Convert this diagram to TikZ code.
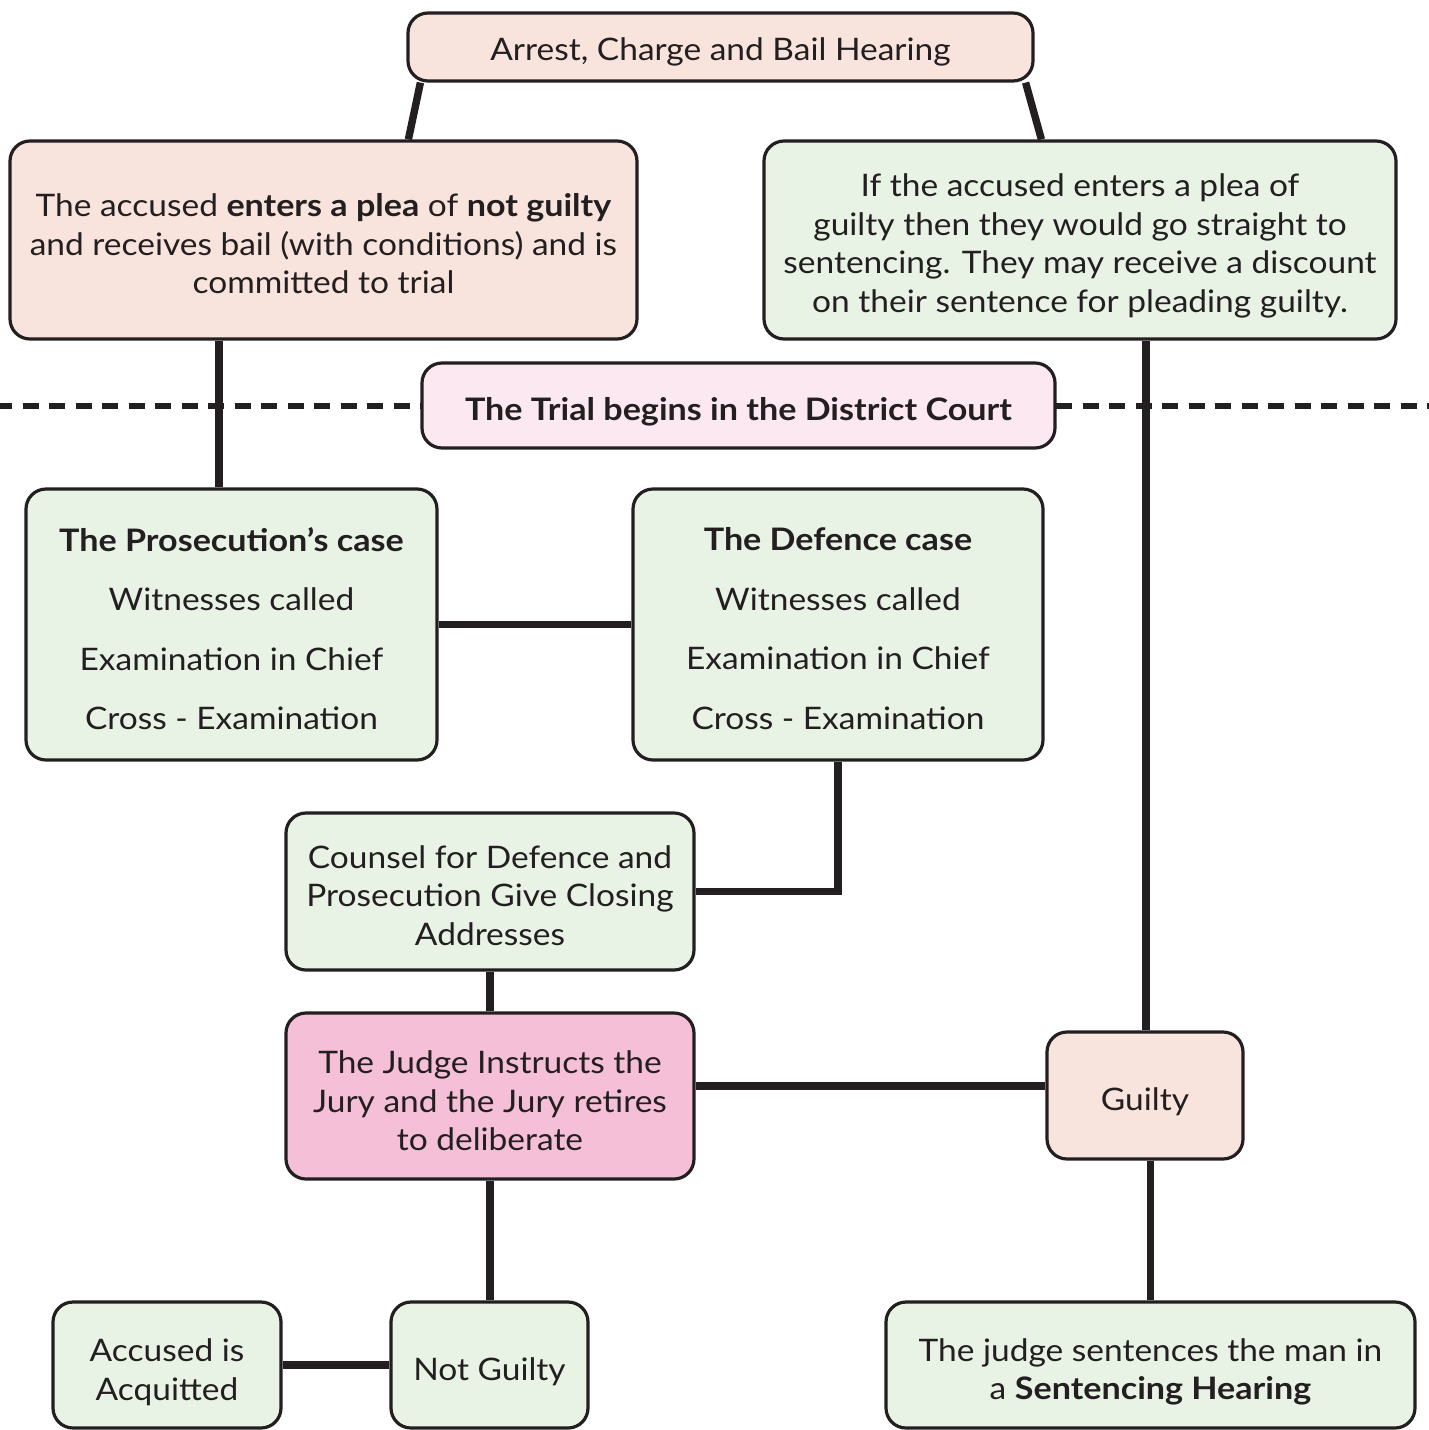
\documentclass[tikz,border=0pt]{standalone}
\usepackage{fontspec}
\setmainfont{Lato}[FakeStretch=1.08, BoldFeatures={FakeStretch=1.1}]
\usetikzlibrary{calc,backgrounds}
\definecolor{ink}{HTML}{231F20}
\definecolor{peachc}{HTML}{F8E4DC}
\definecolor{greenc}{HTML}{E8F3E6}
\definecolor{pinkc}{HTML}{FCE8F0}
\definecolor{magc}{HTML}{F5BFD7}
\begin{document}
\begin{tikzpicture}[x=0.5pt,y=-0.5pt,
  box/.style={draw=ink, line width=1.6pt, rounded corners=10pt, inner sep=0pt},
  txt/.style={align=center, text=ink, font=\fontsize{15.5}{19.25}\selectfont, inner sep=0pt},
  peach/.style={box, fill=peachc},
  green/.style={box, fill=greenc},
  pinkbox/.style={box, fill=pinkc},
  magbox/.style={box, fill=magc},
  conn/.style={draw=ink, line width=3.7pt},
  sep/.style={draw=ink, line width=3pt, dash pattern=on 8pt off 5.25pt, dash phase=2pt}]
\useasboundingbox (0,0) rectangle (1429,1430);

\node[peach, minimum width=312.5pt, minimum height=34pt] (top) at (720.5,47) {};
\node[txt] (top-t) at ($(top)+(0,5)$) {Arrest, Charge and Bail Hearing};

\node[peach, minimum width=313.5pt, minimum height=99pt] (plea) at (323.5,240) {};
\node[txt] (plea-t) at ($(plea)+(0,4)$)
  {The accused \textbf{enters a plea} of \textbf{not guilty}\\and receives bail (with conditions) and is\\committed to trial};

\node[green, minimum width=316pt, minimum height=99pt] (gplea) at (1080,240) {};
\node[txt] (gplea-t) at ($(gplea)+(0,6)$)
  {If the accused enters a plea of\\guilty then they would go straight to\\sentencing. They may receive a discount\\on their sentence for pleading guilty.};

\node[pinkbox, minimum width=316.5pt, minimum height=42.5pt] (trial) at (738.5,405.5) {};
\node[txt] (trial-t) at ($(trial)+(0,6)$) {\textbf{The Trial begins in the District Court}};

\node[green, minimum width=205.5pt, minimum height=135.5pt] (pros) at (231.5,624.5) {};
\node[txt] (pros-t) at ($(pros)+(0,4)$)
  {\textbf{The Prosecution’s case}\\[10.5pt]Witnesses called\\[10.5pt]Examination in Chief\\[10.5pt]Cross - Examination};

\node[green, minimum width=205pt, minimum height=135.5pt] (def) at (838,624.5) {};
\node[txt] (def-t) at ($(def)+(0,4)$)
  {\textbf{The Defence case}\\[10.5pt]Witnesses called\\[10.5pt]Examination in Chief\\[10.5pt]Cross - Examination};

\node[green, minimum width=204pt, minimum height=78.5pt] (counsel) at (490,891.5) {};
\node[txt] (counsel-t) at ($(counsel)+(0,4)$)
  {Counsel for Defence and\\Prosecution Give Closing\\Addresses};

\node[magbox, minimum width=204pt, minimum height=83pt] (judge) at (490,1096) {};
\node[txt] (judge-t) at ($(judge)+(0,5)$)
  {The Judge Instructs the\\Jury and the Jury retires\\to deliberate};

\node[peach, minimum width=98pt, minimum height=63.5pt] (guilty) at (1145,1095.5) {};
\node[txt] (guilty-t) at ($(guilty)+(0,6)$) {Guilty};

\node[green, minimum width=114pt, minimum height=63pt] (acq) at (167,1365) {};
\node[txt] (acq-t) at ($(acq)+(0,7)$) {Accused is\\Acquitted};

\node[green, minimum width=98.5pt, minimum height=63pt] (notg) at (489.5,1365) {};
\node[txt] (notg-t) at ($(notg)+(0,7)$) {Not Guilty};

\node[green, minimum width=264.5pt, minimum height=63pt] (sent) at (1150.5,1365) {};
\node[txt] (sent-t) at ($(sent)+(0,7)$)
  {The judge sentences the man in\\a \textbf{Sentencing Hearing}};

\begin{pgfonlayer}{background}
  \path[sep] (0,406) -- (1429,406);
  \path[conn] ($(top.south west)+(14,0)$) -- ($(plea.north west)+(400,0)$);
  \path[conn] ($(top.south east)+(-9,0)$) -- ($(gplea.north west)+(279,0)$);
  \path[conn] (219,0 |- plea.south) -- (219,0 |- pros.north);
  \path[conn] (1146,0 |- gplea.south) -- (1146,0 |- guilty.north);
  \path[conn] (pros.east) -- (def.west);
  \path[conn] (def.south) -- (def.south |- counsel.east) -- (counsel.east);
  \path[conn] (counsel.south) -- (judge.north);
  \coordinate (jg) at ($(judge.east)+(0,-10)$);
  \path[conn] (jg) -- (jg -| guilty.west);
  \path[conn] (judge.south) -- (judge.south |- notg.north);
  \path[conn] (notg.west) -- (acq.east);
  \path[conn] (sent.north |- guilty.south) -- (sent.north);
\end{pgfonlayer}
\end{tikzpicture}
\end{document}
